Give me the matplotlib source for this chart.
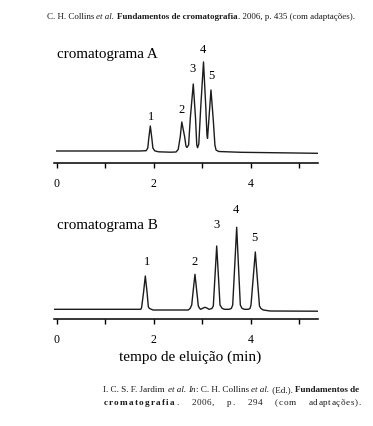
import matplotlib
matplotlib.use('Agg')
import matplotlib.pyplot as plt
from matplotlib.font_manager import FontProperties, findfont, get_font

# cromatograma A: tempo (min) e sinal (unidades arbitrárias)
tempo_a = [0.0, 1.70, 1.845, 1.878, 1.898, 1.930, 1.962, 1.983, 2.02, 2.10, 2.35,
           2.46, 2.505, 2.548, 2.579, 2.637, 2.665, 2.685,
           2.72, 2.755, 2.816, 2.862, 2.888, 2.905,
           2.93, 2.97, 3.027, 3.074, 3.098, 3.110,
           3.122, 3.181, 3.230, 3.262, 3.285, 3.34, 3.80, 4.60, 5.39]
sinal_a = [0, 0, 0.3, 3, 12.5, 25, 12.5, 3, 0.2, -0.8, -1.2,
           -1.0, 1.5, 14.5, 29, 14.5, 5, 3.5,
           6, 33, 67, 33, 6, 3.3,
           7, 44, 89, 44, 16, 12.7,
           21, 61, 30, 6, 1, -0.5, -1.3, -1.8, -2.3]

# cromatograma B
tempo_b = [-0.05, 1.73, 1.745, 1.753, 1.79, 1.827, 1.864, 1.889, 1.91, 1.938, 1.986, 2.336,
           2.666, 2.713, 2.75, 2.784, 2.812, 2.851, 2.889, 2.92, 2.945, 2.969, 3.015, 3.058, 3.10, 3.14,
           3.20, 3.229, 3.262, 3.299, 3.336, 3.367, 3.41, 3.456, 3.553,
           3.60, 3.629, 3.668, 3.711, 3.75, 3.786, 3.82, 3.868, 3.95,
           3.985, 4.006, 4.047, 4.095, 4.14, 4.181, 4.21, 4.26, 4.40, 5.39]
sinal_b = [0, 0, 0.8, 2.6, 16.6, 33.3, 16.6, 2.6, 0.9, 0.3, -0.7, -0.7,
           -0.7, -0.7, 0.8, 4.3, 17.5, 35, 17.5, 3.3, 1.0, 0, 1.2, 2, 1.2, 0,
           0.8, 3.3, 31.6, 63.3, 31.6, 4.3, 1.0, 0, 0,
           0.8, 4.3, 41, 82, 41, 4.3, 1.0, 0, 0,
           0.8, 4.3, 28.6, 57.3, 28.6, 3.3, 0.8, -0.7, -1.7, -1.9]

picos = ['1', '2', '3', '4', '5']
rotulo_a_t = [1.945, 2.577, 2.805, 3.010, 3.198]
rotulo_a_s = [34, 41, 82, 101, 75]
rotulo_b_t = [1.855, 2.851, 3.299, 3.699, 4.075]
rotulo_b_s = [47.6, 47.6, 84.3, 99, 71]

ticks = [0, 1, 2, 3, 4, 5]
tick_labels = ['0', '', '2', '', '4', '']

ref_topo = [('C. H. Collins ', 'n'), ('et al.', 'i'), (' ', 'n'),
            ('Fundamentos de cromatografia', 'b'), ('. 2006, p. 435 (com adaptações).', 'n')]
ref_base1 = [('I. C. S. F. Jardim ', 'n'), ('et al.', 'i'), (' ', 'n'), ('In', 'i'),
             (': C. H. Collins ', 'n'), ('et al.', 'i'), (' (Ed.). ', 'n'), ('Fundamentos de', 'b')]
ref_base2 = [('cromatografia', 'b'), ('. 2006, p. 294 (com adaptações).', 'n')]

SERIF = 'Liberation Serif'
W, H = 373, 426
fig = plt.figure(figsize=(W / 100, H / 100), dpi=100)
STY = {'n': {}, 'i': {'style': 'italic'}, 'b': {'weight': 'bold'}}
TSTY = {'n': {}, 'i': {'fontstyle': 'italic'}, 'b': {'fontweight': 'bold'}}


def avanco(txt, size, k):
    f = get_font(findfont(FontProperties(family=SERIF, **STY[k])))
    f.set_size(size, 100)
    return sum(f.load_char(ord(c)).linearHoriAdvance for c in txt) / 65536


def escreve(x, y, txt, size, k):
    fig.text(x / W, 1 - y / H, txt, fontsize=size, family=SERIF, color='#1a1a1a',
             va='baseline', ha='left', **TSTY[k])


def linha(segs, x0, y, size, draw=True):
    # blocos inteiros (com espaços) lado a lado
    x = x0
    for s, k in segs:
        if draw and s.strip():
            escreve(x, y, s, size, k)
        x += avanco(s, size, k)
    return x - x0


def justificada(segs, x0, x1, y, size, track):
    itens = []
    for s, k in segs:
        for i, p in enumerate(s.split(' ')):
            if i > 0:
                itens.append(('sp', ' ', k, avanco(' ', size, k)))
            itens += [('tx', c, k, avanco(c, size, k) + track[k]) for c in p]
    nat = sum(it[3] for it in itens)
    nsp = sum(1 for it in itens if it[0] == 'sp')
    extra = (x1 - x0 - nat) / nsp
    x = x0
    for tipo, c, k, w in itens:
        if tipo == 'tx':
            escreve(x, y, c, size, k)
        x += w + (extra if tipo == 'sp' else 0)


def ajusta(segs, x0, x1, y):
    n = linha(segs, 0, 0, 10, draw=False)
    size = 10 * (x1 - x0) / n
    linha(segs, x0, y, size)
    return size


px0, ppm = 56.7, 48.5
xmin, xmax = -0.05, 5.39
left = (px0 + xmin * ppm) / W
width = (xmax - xmin) * ppm / W


def painel(top_px, bot_px, base_px, t, s, lt, ls, nome, nome_y):
    ax = fig.add_axes([left, 1 - bot_px / H, width, (bot_px - top_px) / H])
    ax.plot(t, s, color='#1c1c1c', lw=1.0)
    ax.set_xlim(xmin, xmax)
    ax.set_ylim(-(bot_px - base_px), base_px - top_px)
    for sp in ['left', 'right', 'top']:
        ax.spines[sp].set_visible(False)
    ax.spines['bottom'].set_linewidth(1.1)
    ax.set_yticks([])
    ax.set_xticks(ticks)
    ax.set_xticklabels(tick_labels, fontsize=8.5, family=SERIF)
    ax.tick_params(axis='x', direction='out', length=3.8, width=1.0, pad=7)
    ax.patch.set_alpha(0)
    for lab, a, b in zip(picos, lt, ls):
        ax.text(a, b, lab, fontsize=9, family=SERIF, ha='center', va='center')
    fig.text(57 / W, 1 - nome_y / H, nome, fontsize=10.8, family=SERIF, va='baseline', ha='left')
    return ax


painel(40, 163.3, 151, tempo_a, sinal_a, rotulo_a_t, rotulo_a_s, 'cromatograma A', 58.3)
painel(195, 319.3, 309.3, tempo_b, sinal_b, rotulo_b_t, rotulo_b_s, 'cromatograma B', 229.3)

fig.text(190.2 / W, 1 - 357 / H, 'tempo de eluição (min)', fontsize=11, family=SERIF,
         ha='center', va='center')

ajusta(ref_topo, 46.7, 353.3, 19)
s1 = ajusta(ref_base1, 103.3, 361, 392)
justificada(ref_base2, 103.3, 361, 405, s1, {'b': 1.3, 'n': 0.6})

fig.savefig('out.png', dpi=100)
